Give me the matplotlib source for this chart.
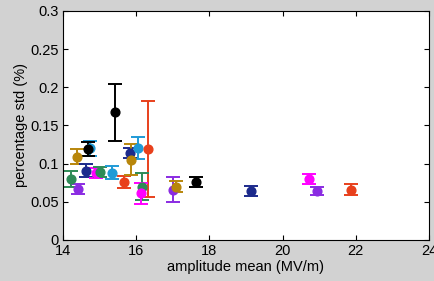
import matplotlib.pyplot as plt

# colours of the series (MATLAB-ish)
colors = {
    'green': '#2e8b57',
    'purple': '#8a2be2',
    'gold': '#b8860b',
    'black': '#000000',
    'blue': '#1f9ad6',
    'navy': '#1c2a8c',
    'magenta': '#ff00ff',
    'red': '#e8401c',
}

amp_mean = [14.22, 14.40, 14.37, 14.74, 14.68, 14.63, 14.90, 15.00, 15.33, 15.41,
            15.67, 15.84, 15.86, 16.04, 16.32, 16.16, 16.13, 17.00, 17.10, 17.62,
            19.14, 20.72, 20.93, 21.88]
pct_std = [0.080, 0.067, 0.109, 0.120, 0.119, 0.091, 0.088, 0.089, 0.088, 0.167,
           0.076, 0.114, 0.105, 0.121, 0.119, 0.070, 0.061, 0.066, 0.070, 0.076,
           0.064, 0.080, 0.064, 0.066]
std_err = [0.011, 0.0065, 0.010, 0.010, 0.009, 0.0085, 0.0065, 0.0065, 0.0085, 0.0375,
           0.0077, 0.006, 0.0205, 0.0145, 0.063, 0.018, 0.014, 0.0165, 0.0075, 0.0068,
           0.0065, 0.007, 0.005, 0.0075]
point_color = ['green', 'purple', 'gold', 'blue', 'black', 'navy', 'magenta', 'green',
               'blue', 'black', 'red', 'navy', 'gold', 'blue', 'red', 'green',
               'magenta', 'purple', 'gold', 'black', 'navy', 'magenta', 'purple', 'red']

plt.rcParams['font.family'] = ['Liberation Sans', 'DejaVu Sans']

fig = plt.figure(figsize=(4.35, 2.81), dpi=100, facecolor='#d2d2d2')
ax = fig.add_axes([0.145, 0.146, 0.841, 0.815])
ax.set_facecolor('white')

for x, y, e, c in zip(amp_mean, pct_std, std_err, point_color):
    ax.errorbar(x, y, yerr=e, fmt='o', color=colors[c], markersize=6.3,
                capsize=5, elinewidth=1.4, capthick=1.4)

ax.set_xlim(14, 24)
ax.set_ylim(0, 0.3)
ax.set_xticks([14, 16, 18, 20, 22, 24])
ax.set_yticks([0, 0.05, 0.1, 0.15, 0.2, 0.25, 0.3])
ax.set_yticklabels(['0', '0.05', '0.1', '0.15', '0.2', '0.25', '0.3'])
ax.tick_params(direction='in', top=True, right=True, labelsize=10.5, length=3.5, pad=3)
for s in ax.spines.values():
    s.set_linewidth(0.8)

ax.set_xlabel('amplitude mean (MV/m)', fontsize=10.5, labelpad=1)
ax.set_ylabel('percentage std (%)', fontsize=10.5, labelpad=2)

fig.savefig('out.png', dpi=100, facecolor=fig.get_facecolor())
